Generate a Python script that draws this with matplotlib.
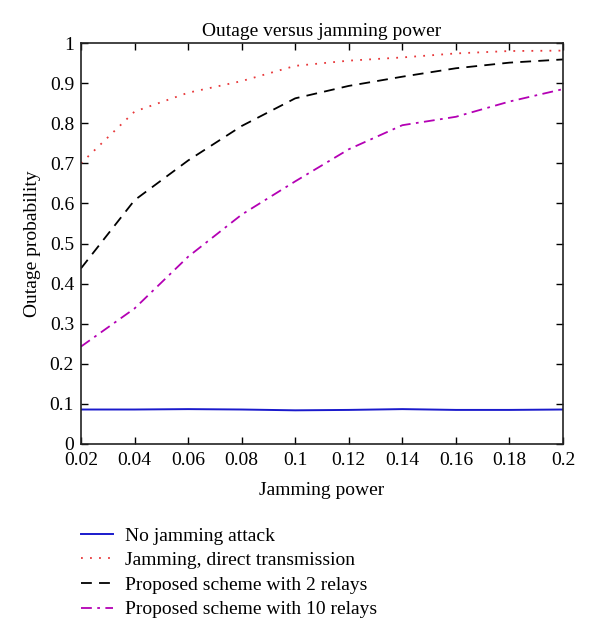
import numpy as np
import matplotlib
matplotlib.use('Agg')
import matplotlib.pyplot as plt

#------------------------------------------------------------------------------#
# Data
#------------------------------------------------------------------------------#
jamming_power = [0.02, 0.04, 0.06, 0.08, 0.10, 0.12, 0.14, 0.16, 0.18, 0.20]

no_jamming = [0.086, 0.086, 0.087, 0.086, 0.084, 0.085, 0.087, 0.085, 0.085, 0.086]
direct_tx = [0.700, 0.829, 0.876, 0.905, 0.943, 0.956, 0.964, 0.974, 0.980, 0.981]
relays_2 = [0.438, 0.608, 0.707, 0.793, 0.862, 0.893, 0.916, 0.937, 0.951, 0.959]
relays_10 = [0.243, 0.338, 0.467, 0.572, 0.655, 0.735, 0.795, 0.816, 0.854, 0.885]

labels = ['No jamming attack',
          'Jamming, direct transmission',
          'Proposed scheme with 2 relays',
          'Proposed scheme with 10 relays']

x_ticks = [0.02, 0.04, 0.06, 0.08, 0.1, 0.12, 0.14, 0.16, 0.18, 0.2]
x_tick_labels = ['0.02', '0.04', '0.06', '0.08', '0.1', '0.12', '0.14', '0.16', '0.18', '0.2']
y_ticks = [0, 0.1, 0.2, 0.3, 0.4, 0.5, 0.6, 0.7, 0.8, 0.9, 1]
y_tick_labels = ['0', '0.1', '0.2', '0.3', '0.4', '0.5', '0.6', '0.7', '0.8', '0.9', '1']

#------------------------------------------------------------------------------#
# Plot
#------------------------------------------------------------------------------#
plt.rcParams['font.family'] = ['Liberation Serif', 'DejaVu Serif']
fs = 14

fig = plt.figure(figsize=(6.0, 6.39), dpi=100)
ax = fig.add_axes([81/600, 1 - 444/639, (563 - 81)/600, (444 - 43)/639])

ax.plot(jamming_power, no_jamming, color='#1a1acc', linestyle='-', linewidth=1.4, label=labels[0])
ax.plot(jamming_power, direct_tx, color='#e8383a', linestyle=(0, (1, 4)), linewidth=1.3, label=labels[1])
ax.plot(jamming_power, relays_2, color='black', linestyle=(0, (6, 4)), linewidth=1.3, label=labels[2])
ax.plot(jamming_power, relays_10, color='#b400b4', linestyle=(0, (6, 3, 1.5, 3)), linewidth=1.3, label=labels[3])

ax.set_xlim(0.02, 0.2)
ax.set_ylim(0, 1)
ax.set_xticks(x_ticks)
ax.set_xticklabels(x_tick_labels, fontsize=fs)
ax.set_yticks(y_ticks)
ax.set_yticklabels(y_tick_labels, fontsize=fs)
ax.tick_params(direction='in', top=True, right=True, length=5, width=1)
ax.tick_params(axis='x', pad=6)
ax.tick_params(axis='y', pad=5)
for s in ax.spines.values():
    s.set_linewidth(1.2)
    s.set_color('#222222')

ax.set_title('Outage versus jamming power', fontsize=fs, pad=5)
ax.set_xlabel('Jamming power', fontsize=fs, labelpad=9)
ax.set_ylabel('Outage probability', fontsize=fs, labelpad=6)

handles, lbls = ax.get_legend_handles_labels()
fig.legend(handles, lbls, loc='upper left', bbox_to_anchor=(81/600, 1 - 527/639),
           frameon=False, fontsize=fs, handlelength=1.65, handletextpad=0.6,
           labelspacing=0.36, borderpad=0, borderaxespad=0)

fig.savefig('out.png', dpi=100)
